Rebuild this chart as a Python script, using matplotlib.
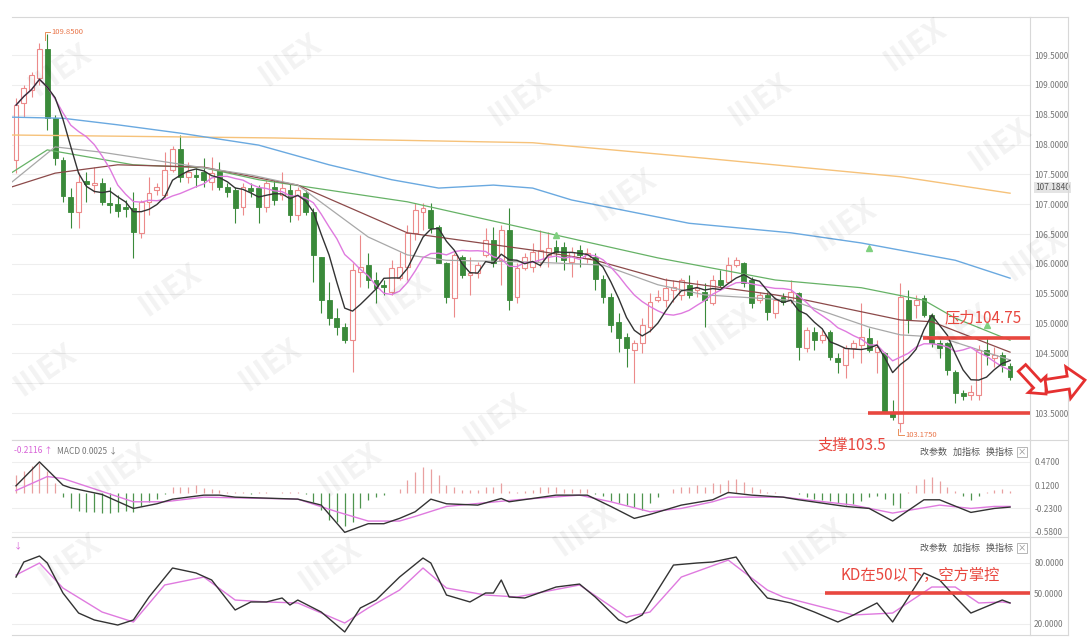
import matplotlib
matplotlib.use('Agg')
import matplotlib.pyplot as plt
from matplotlib.patches import FancyArrow
from matplotlib.lines import Line2D
import numpy as np
import pandas as pd

plt.rcParams['font.family'] = ['Noto Sans CJK SC', 'DejaVu Sans']

# ---- dati ----
opens = [107.74, 108.70, 108.91, 109.11, 109.60, 108.44, 107.74, 107.12, 106.87, 107.39,
         107.32, 107.35, 107.02, 107.00, 106.95, 106.94, 106.52, 107.04, 107.24, 107.15,
         107.57, 107.92, 107.46, 107.49, 107.54, 107.37, 107.57, 107.29, 107.24, 106.95,
         107.27, 107.27, 106.95, 107.29, 107.15, 107.24, 106.82, 107.19, 106.87, 106.11,
         105.39, 105.09, 104.94, 104.72, 105.86, 105.98, 105.73, 105.65, 105.53, 105.76,
         105.95, 106.52, 106.87, 106.90, 106.62, 106.01, 105.43, 106.11, 105.81, 105.85,
         106.15, 106.40, 106.06, 106.57, 105.44, 105.93, 105.95, 106.03, 106.15, 106.28,
         106.28, 106.03, 106.23, 106.10, 106.11, 105.75, 105.44, 105.03, 104.77, 104.56,
         104.67, 104.94, 105.39, 105.39, 105.56, 105.48, 105.65, 105.56, 105.53, 105.34,
         105.73, 105.70, 105.98, 106.01, 105.73, 105.39, 105.48, 105.18, 105.44, 105.39,
         105.51, 104.59, 104.86, 104.72, 104.86, 104.42, 104.30, 104.59, 104.64, 104.76,
         104.52, 104.51, 103.52, 103.33, 105.39, 105.31, 105.43, 105.14, 104.67, 104.67,
         104.19, 103.84, 103.80, 103.80, 104.56, 104.42, 104.47, 104.29]
highs = [108.78, 109.00, 109.22, 109.70, 109.85, 108.49, 107.79, 107.27, 107.54, 107.54,
         107.62, 107.44, 107.29, 107.15, 107.07, 107.20, 107.07, 107.46, 107.35, 107.87,
         107.97, 108.16, 107.70, 107.61, 107.77, 107.79, 107.71, 107.35, 107.29, 107.35,
         107.35, 107.32, 107.41, 107.41, 107.54, 107.35, 107.29, 107.24, 106.94, 106.11,
         105.70, 105.26, 105.01, 106.01, 106.48, 106.18, 105.86, 105.73, 106.06, 106.20,
         106.65, 107.02, 107.02, 107.02, 106.65, 106.03, 106.18, 106.15, 106.11, 106.03,
         106.60, 106.62, 106.65, 106.94, 106.01, 106.18, 106.35, 106.57, 106.53, 106.40,
         106.37, 106.28, 106.32, 106.27, 106.18, 105.81, 105.51, 105.18, 104.84, 104.72,
         105.09, 105.51, 105.56, 105.76, 105.73, 105.76, 105.81, 105.73, 105.68, 105.81,
         105.90, 106.11, 106.11, 106.03, 105.78, 105.53, 105.53, 105.44, 105.51, 105.73,
         105.53, 104.94, 104.94, 104.89, 104.89, 104.51, 104.64, 104.72, 105.34, 104.92,
         104.72, 104.52, 103.72, 105.68, 105.56, 105.48, 105.48, 105.18, 104.72, 104.69,
         104.22, 103.89, 103.97, 104.64, 104.77, 104.61, 104.52, 104.34]
lows = [107.52, 108.46, 108.80, 109.00, 108.24, 107.66, 107.04, 106.60, 106.60, 107.04,
        107.19, 106.99, 106.85, 106.78, 106.78, 106.10, 106.43, 106.82, 107.15, 107.12,
        107.54, 107.37, 107.35, 107.29, 107.29, 107.24, 107.24, 107.12, 106.68, 106.82,
        107.12, 106.68, 106.87, 106.99, 107.07, 106.70, 106.73, 106.82, 105.70, 105.18,
        104.97, 104.81, 104.67, 104.19, 105.61, 105.60, 105.34, 105.48, 105.48, 105.73,
        105.73, 106.40, 106.57, 106.52, 106.01, 105.34, 105.11, 105.76, 105.48, 105.76,
        106.11, 105.95, 105.65, 105.23, 105.34, 105.90, 105.86, 105.95, 105.95, 106.03,
        105.90, 105.78, 105.95, 106.01, 105.56, 105.34, 104.86, 104.52, 104.27, 104.00,
        104.51, 104.86, 105.36, 105.28, 105.36, 105.39, 105.43, 105.44, 104.94, 105.31,
        105.61, 105.68, 105.95, 105.61, 105.26, 105.34, 105.06, 105.09, 105.31, 105.34,
        104.39, 104.52, 104.56, 104.67, 104.39, 104.17, 104.09, 104.42, 104.34, 104.52,
        104.17, 103.50, 103.38, 103.175, 104.84, 105.09, 105.11, 104.61, 104.42, 104.14,
        103.67, 103.72, 103.72, 103.72, 104.30, 104.27, 104.19, 104.05]
closes = [108.66, 108.95, 109.16, 109.60, 108.44, 107.77, 107.14, 106.87, 107.37, 107.34,
          107.35, 107.04, 106.99, 106.89, 106.92, 106.53, 107.04, 107.19, 107.29, 107.57,
          107.92, 107.46, 107.54, 107.46, 107.41, 107.52, 107.29, 107.20, 106.94, 107.29,
          107.22, 106.95, 107.35, 107.07, 107.27, 106.82, 107.24, 106.87, 106.15, 105.39,
          105.09, 104.94, 104.72, 105.90, 105.95, 105.73, 105.60, 105.61, 105.93, 105.95,
          106.52, 106.90, 106.94, 106.60, 106.01, 105.44, 106.15, 105.81, 105.85, 105.98,
          106.40, 106.01, 106.57, 105.39, 105.93, 106.11, 106.20, 106.23, 106.27, 106.20,
          106.06, 106.20, 106.15, 106.18, 105.75, 105.44, 104.97, 104.76, 104.59, 104.67,
          104.97, 105.36, 105.44, 105.60, 105.61, 105.73, 105.48, 105.60, 105.39, 105.73,
          105.65, 105.98, 106.06, 105.68, 105.34, 105.48, 105.19, 105.39, 105.36, 105.53,
          104.61, 104.89, 104.72, 104.81, 104.44, 104.35, 104.59, 104.67, 104.77, 104.56,
          104.61, 103.52, 103.43, 105.45, 105.06, 105.39, 105.14, 104.67, 104.59, 104.22,
          103.84, 103.79, 103.85, 104.56, 104.47, 104.47, 104.30, 104.10]

# medie mobili lunghe (indice candela, prezzo)
ma20_idx = [-1, 5, 11, 19, 30, 36, 45, 50, 55, 66, 75, 82, 88, 99, 109, 113, 118, 127]
ma20_val = [107.32, 107.96, 107.87, 107.71, 107.49, 107.32, 106.45, 106.15, 106.06, 106.03,
            105.98, 105.65, 105.48, 105.39, 104.94, 104.81, 104.77, 104.39]
ma30_idx = [-1, 5, 13, 24, 31, 36, 50, 66, 74, 83, 97, 101, 113, 117, 127]
ma30_val = [107.27, 107.52, 107.66, 107.62, 107.44, 107.32, 106.52, 106.23, 106.06, 105.73,
            105.48, 105.39, 105.06, 105.03, 104.52]
ma60_idx = [-1, 4, 15, 24, 31, 50, 66, 82, 97, 108, 116, 120, 127]
ma60_val = [107.49, 107.91, 107.66, 107.61, 107.41, 107.04, 106.57, 106.10, 105.73, 105.60,
            105.39, 105.09, 104.72]
ma120_idx = [-1, 6, 13, 21, 31, 40, 48, 54, 61, 66, 71, 86, 99, 108, 120, 127]
ma120_val = [108.46, 108.44, 108.33, 108.19, 107.99, 107.66, 107.41, 107.27, 107.32, 107.27,
             107.07, 106.68, 106.52, 106.35, 106.06, 105.76]
ma250_idx = [-1, 33, 66, 88, 113, 127]
ma250_val = [108.16, 108.11, 108.03, 107.77, 107.46, 107.184]

# segnali verdi sopra le candele
sig_idx = [69, 109, 124]
sig_val = [106.48, 106.27, 104.97]

# MACD
macd_hist = [0.27, 0.34, 0.41, 0.46, 0.34, 0.15, -0.06, -0.23, -0.27, -0.28,
             -0.29, -0.30, -0.30, -0.29, -0.27, -0.29, -0.20, -0.13, -0.09, -0.01,
             0.10, 0.10, 0.10, 0.12, 0.08, 0.07, 0.05, 0.02, 0.01, 0.02,
             -0.01, 0.01, 0.01, 0.0, 0.01, 0.01, 0.01, -0.02, -0.13, -0.25,
             -0.40, -0.44, -0.49, -0.44, -0.23, -0.11, -0.06, -0.03, 0.0, 0.06,
             0.20, 0.32, 0.39, 0.37, 0.27, 0.13, 0.10, 0.05, 0.05, 0.05,
             0.10, 0.10, 0.15, 0.03, 0.02, 0.03, 0.05, 0.09, 0.10, 0.10,
             0.07, 0.07, 0.07, 0.06, -0.01, -0.05, -0.12, -0.15, -0.18, -0.21,
             -0.26, -0.15, -0.06, 0.0, 0.06, 0.10, 0.10, 0.12, 0.09, 0.15,
             0.14, 0.20, 0.22, 0.17, 0.09, 0.06, 0.01, 0.01, 0.0, 0.0,
             -0.01, -0.06, -0.09, -0.11, -0.12, -0.15, -0.18, -0.16, -0.12, -0.06,
             -0.04, -0.09, -0.18, -0.23, 0.01, 0.13, 0.21, 0.25, 0.18, 0.10,
             0.03, -0.04, -0.10, -0.04, 0.02, 0.04, 0.06, 0.03]
dif_idx = [0, 3, 6, 7, 11, 15, 18, 20, 24, 26, 28, 36, 39, 42, 45, 47, 49, 51, 53, 55,
           59, 62, 63, 69, 73, 76, 79, 81, 85, 89, 91, 94, 98, 100, 106, 109, 112, 116, 118, 122,
           125, 127]
dif_val = [0.11, 0.47, 0.12, 0.08, -0.02, -0.23, -0.16, -0.09, -0.03, -0.03,
           -0.06, -0.09, -0.18, -0.59, -0.46, -0.46, -0.38, -0.28, -0.09, -0.16,
           -0.18, -0.08, -0.13, -0.03, -0.03, -0.20, -0.38, -0.32, -0.18, -0.10,
           0.01, -0.03, -0.06, -0.10, -0.20, -0.23, -0.42, -0.10, -0.10, -0.29,
           -0.23, -0.21]
dea_idx = [0, 4, 6, 15, 19, 24, 36, 41, 45, 49, 51, 55, 64, 72, 76, 81, 85, 89, 91, 98,
           107, 112, 118, 122, 125, 127]
dea_val = [0.04, 0.25, 0.22, -0.13, -0.13, -0.06, -0.09, -0.28, -0.42, -0.42,
           -0.35, -0.20, -0.10, -0.03, -0.13, -0.28, -0.23, -0.13, -0.06, -0.06,
           -0.18, -0.30, -0.18, -0.23, -0.20, -0.20]

# KD
k_idx = [0, 1, 3, 4, 6, 8, 10, 13, 15, 17, 20, 23, 25, 28, 30, 32, 34, 35, 36, 39,
         42, 44, 46, 49, 52, 53, 55, 58, 60, 61, 62, 63, 65, 69, 72, 74, 77, 78, 80, 84,
         87, 89, 92, 94, 96, 99, 102, 105, 107, 110, 112, 116, 118, 120, 122, 126, 127]
k_val = [65.7, 80.5, 86.4, 79.5, 50, 30.3, 23.5, 18.5, 23.5, 46.1,
         74.6, 69.7, 62.8, 33.3, 41.2, 41.2, 45.1, 38.2, 43.1, 31.3,
         11.7, 35.3, 43.1, 65.7, 84.4, 79.5, 48, 41.2, 50, 50,
         62.8, 46.1, 45.1, 55.9, 58.8, 46.1, 23.5, 20.5, 28.4, 77.5,
         79.5, 80.5, 85.4, 62.8, 45.1, 40.2, 31.3, 21.5, 28.4, 40.2,
         21.5, 69.7, 62.8, 46.1, 30.3, 43.1, 40.2]
d_idx = [0, 3, 6, 11, 15, 19, 24, 28, 32, 36, 42, 45, 49, 52, 55, 60, 64, 72, 78, 81,
         85, 91, 96, 98, 103, 107, 112, 117, 120, 123, 126, 127]
d_val = [67.7, 79.5, 54.9, 31.3, 21.5, 57.9, 65.7, 43.1, 41.2, 40.2,
         20.5, 35.3, 52.9, 74.6, 54.9, 48, 46.1, 57.9, 26.4, 31.3,
         65.7, 82.4, 52.9, 46.1, 36.2, 28.4, 30.3, 55.9, 55.9, 40.2,
         41.2, 40.2]

main_ticks = [103.5, 104.0, 104.5, 105.0, 105.5, 106.0, 106.5, 107.0, 107.5, 108.0, 108.5, 109.0, 109.5]
macd_ticks = [0.47, 0.12, -0.23, -0.58]
kd_ticks = [80, 50, 20]

# ---- figura ----
W, H = 1087, 638
fig = plt.figure(figsize=(W / 100, H / 100), dpi=100)


def px_axes(x0, y0, x1, y1):
    return fig.add_axes([x0 / W, 1 - y1 / H, (x1 - x0) / W, (y1 - y0) / H])


def ftext(x, y, s, **kw):
    fig.text(x / W, 1 - y / H, s, **kw)


def fline(xs, ys, **kw):
    fig.add_artist(Line2D([x / W for x in xs], [1 - y / H for y in ys],
                          transform=fig.transFigure, **kw))


xlim = (-0.51, 129.55)
ax = px_axes(12, 17, 1030, 440)
ax_macd = px_axes(12, 440, 1030, 537)
ax_kd = px_axes(12, 537, 1030, 635)

for a in (ax, ax_macd, ax_kd):
    a.set_xlim(*xlim)
    a.set_xticks([])
    a.yaxis.tick_right()
    a.tick_params(axis='y', length=0, labelsize=6, labelcolor='#777777', pad=3)
    a.spines['left'].set_visible(False)
    for s in ('top', 'bottom', 'right'):
        a.spines[s].set_color('#d8d8d8')
        a.spines[s].set_linewidth(0.8)
    a.grid(axis='y', color='#eeeeee', lw=0.8)
    a.set_axisbelow(True)

# filigrana
wm_pos = [(60, 70), (290, 60), (520, 100), (760, 100), (915, 45), (1000, 145),
          (170, 290), (400, 300), (625, 195), (845, 225), (1035, 255),
          (45, 370), (270, 365), (495, 420), (725, 330), (960, 330),
          (120, 470), (350, 470), (585, 530), (815, 545), (330, 565), (70, 560)]
for (wx, wy) in wm_pos:
    ftext(wx, wy, 'IIIEX', fontsize=22, fontweight='bold', color='#000000', alpha=0.05,
          rotation=35, ha='center', va='center', zorder=0)

# ---- pannello principale ----
o = np.array(opens)
h = np.array(highs)
l = np.array(lows)
c = np.array(closes)
x = np.arange(len(o))
up = c >= o
dn = ~up
up_col = '#ec8a8a'
dn_col = '#3a8a3a'

ax.vlines(x[up], l[up], h[up], color=up_col, lw=0.8, zorder=2)
ax.vlines(x[dn], l[dn], h[dn], color=dn_col, lw=0.8, zorder=2)
ax.bar(x[up], np.maximum(c - o, 0.015)[up], bottom=o[up], width=0.62,
       facecolor='white', edgecolor=up_col, lw=0.8, zorder=3)
ax.bar(x[dn], np.maximum(o - c, 0.015)[dn], bottom=c[dn], width=0.62,
       facecolor=dn_col, edgecolor=dn_col, lw=0.6, zorder=3)

s_close = pd.Series(closes)
ma5 = s_close.rolling(5, min_periods=1).mean()
ma10 = s_close.rolling(10, min_periods=1).mean()

ax.plot(ma250_idx, ma250_val, color='#f6c27a', lw=1.0, zorder=4)
ax.plot(ma120_idx, ma120_val, color='#6aa9e0', lw=1.0, zorder=4)
ax.plot(ma60_idx, ma60_val, color='#66b266', lw=0.9, zorder=4)
ax.plot(ma30_idx, ma30_val, color='#8c4a4a', lw=0.9, zorder=4)
ax.plot(ma20_idx, ma20_val, color='#a8a8a8', lw=0.9, zorder=4)
ax.plot(x, ma10, color='#df7adf', lw=1.0, zorder=5)
ax.plot(x, ma5, color='#333333', lw=1.0, zorder=5)
ax.plot(sig_idx, sig_val, linestyle='none', marker='^', ms=4, color='#7fd07f', zorder=6)

ax.set_ylim(103.048, 110.137)
ax.set_yticks(main_ticks)
ax.set_yticklabels(['%.4f' % t for t in main_ticks])

# massimo e minimo
i_hi = int(np.argmax(h))
i_lo = int(np.argmin(l))
ax.plot([i_hi - 0.35, i_hi - 0.35, i_hi + 0.3], [h[i_hi] - 0.1, h[i_hi] + 0.04, h[i_hi] + 0.04],
        color='#e9905a', lw=0.7, zorder=6)
ax.text(i_hi + 0.5, h[i_hi] + 0.04, '%.4f' % h[i_hi], fontsize=5.5, color='#e9764a',
        va='center', zorder=6)
ax.plot([i_lo - 0.3, i_lo - 0.3, i_lo + 0.4], [l[i_lo] + 0.05, l[i_lo] - 0.05, l[i_lo] - 0.05],
        color='#e9905a', lw=0.7, zorder=6)
ax.text(i_lo + 0.6, l[i_lo] - 0.05, '%.4f' % l[i_lo], fontsize=5.5, color='#e9764a',
        va='center', zorder=6)

ax.annotate('%.4f' % ma250_val[-1], xy=(1, ma250_val[-1]), xycoords=('axes fraction', 'data'),
            xytext=(3.5, 4), textcoords='offset points', fontsize=6, color='#555555',
            va='center', bbox=dict(boxstyle='square,pad=0.15', fc='#e4e4e4', ec='none'),
            annotation_clip=False)

# supporto e resistenza
red = '#e8473f'
ax.hlines(104.75, 115.9, 129.5, color=red, lw=2.6, zorder=7)
ax.hlines(103.5, 108.9, 129.5, color=red, lw=2.6, zorder=7)
ftext(945, 318, '压力104.75', fontsize=11, color=red, va='center')
ftext(818, 445, '支撑103.5', fontsize=11, color=red, va='center')

# ---- MACD ----
hist = np.array(macd_hist)
pos = hist >= 0
ax_macd.vlines(x[pos], 0, hist[pos], color='#e9a0a0', lw=0.9)
ax_macd.vlines(x[~pos], 0, hist[~pos], color='#4e944e', lw=0.9)
ax_macd.plot(dea_idx, dea_val, color='#df7adf', lw=1.0)
ax_macd.plot(dif_idx, dif_val, color='#333333', lw=1.0)
ax_macd.set_ylim(-0.66, 0.80)
ax_macd.set_yticks(macd_ticks)
ax_macd.set_yticklabels(['%.4f' % t for t in macd_ticks])

ftext(14, 451, '-0.2116 ↑', fontsize=6, color='#d862d8', va='center')
ftext(57, 451, 'MACD 0.0025 ↓', fontsize=6, color='#777777', va='center')

# ---- KD ----
ax_kd.plot(d_idx, d_val, color='#df7adf', lw=1.0)
ax_kd.plot(k_idx, k_val, color='#333333', lw=1.0)
ax_kd.set_ylim(8.7, 105.1)
ax_kd.set_yticks(kd_ticks)
ax_kd.set_yticklabels(['%.4f' % t for t in kd_ticks])
ax_kd.hlines(50, 103.4, 129.5, color=red, lw=2.6, zorder=7)
ftext(840, 575, 'KD在50以下，空方掌控', fontsize=11, color=red, va='center')
ftext(14, 546, '↓', fontsize=6, color='#d862d8', va='center')

# pulsanti
for by in (452, 548):
    ftext(920, by, '改参数   加指标   换指标', fontsize=6.5, color='#555555', va='center')
    ftext(1022, by, '×', fontsize=6, color='#888888', va='center', ha='center',
          bbox=dict(boxstyle='square,pad=0.1', fc='white', ec='#aaaaaa', lw=0.6))

# bordi asse destro
fline([1068, 1068], [17, 635], color='#d8d8d8', lw=0.8)
for yy in (17, 440, 537, 635):
    fline([1030, 1068], [yy, yy], color='#d8d8d8', lw=0.8)


# frecce rosse
def arrow_px(x0, y0, x1, y1, width, hw, hl):
    a = FancyArrow(x0 / 100, (H - y0) / 100, (x1 - x0) / 100, -(y1 - y0) / 100,
                   width=width / 100, head_width=hw / 100, head_length=hl / 100,
                   length_includes_head=True, transform=fig.dpi_scale_trans,
                   facecolor='white', edgecolor='#e53030', lw=2.0, zorder=10)
    fig.add_artist(a)


arrow_px(1022, 368, 1046, 394, 10, 24, 13)
arrow_px(1046, 386, 1085, 380, 13, 32, 17)

fig.savefig('out.png', dpi=100, facecolor='white')
